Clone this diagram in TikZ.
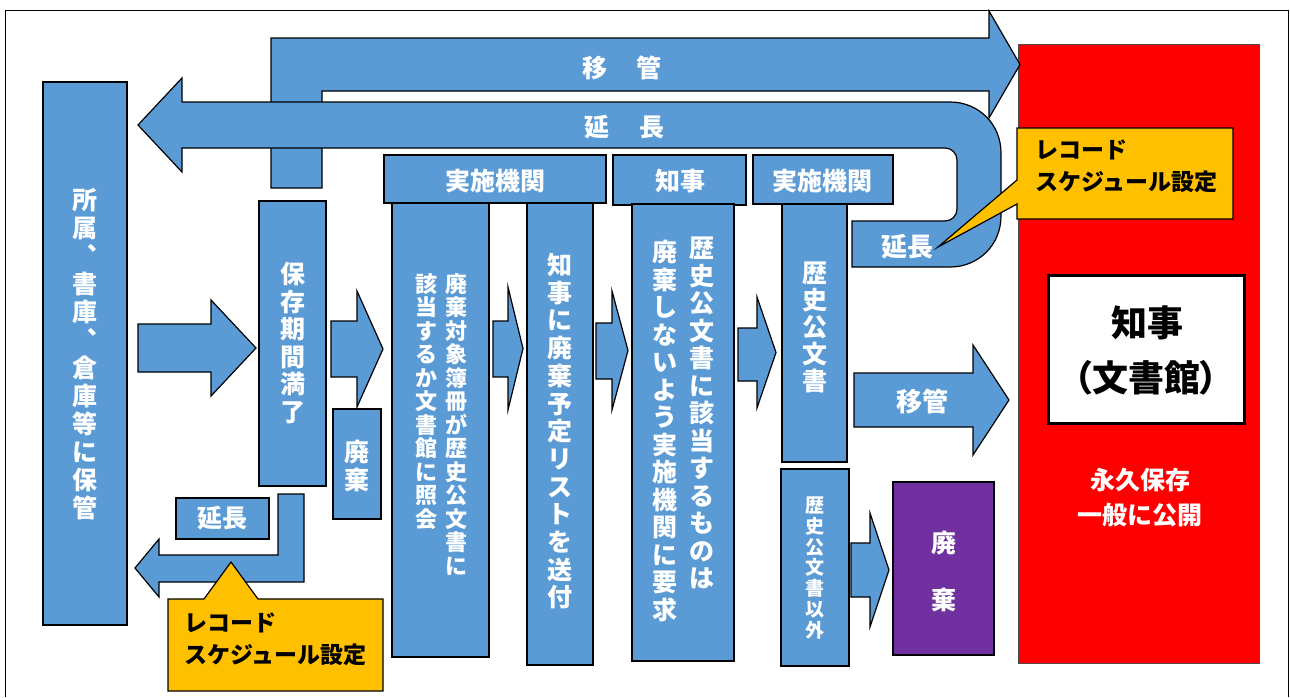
\documentclass[tikz,border=0pt]{standalone}
\usepackage{fontspec}
\setmainfont{Noto Sans CJK JP}
\XeTeXuseglyphmetrics=1
\definecolor{bbl}{RGB}{91,155,213}
\definecolor{org}{RGB}{255,192,0}
\definecolor{pur}{RGB}{112,48,160}
\definecolor{rd}{RGB}{255,0,0}
\makeatletter
\newcommand\vt[2]{\vbox{\baselineskip=#1\relax\lineskiplimit=-\maxdimen\lineskip=0pt
  \@tfor\vt@c:=#2\do{\hbox to 1em{\hss\vt@c\hss}}}}
\makeatother
\newcommand\bx[6]{\node[#6, minimum width={(#4-#2)*1pt}, minimum height={(#5-#3)*1pt}] (#1) at ({(#2+#4)/2},{(#3+#5)/2}) {};}
\newcommand\rarrow[7]{\draw[blk] (#1,#4) -- (#2,#4) -- (#2,#6) -- (#3,{(#6+#7)/2}) -- (#2,#7) -- (#2,#5) -- (#1,#5) -- cycle;}
\begin{document}
\begin{tikzpicture}[x=1pt,y=-1pt,
  blk/.style={fill=bbl, draw=black, line width=1.2pt, line join=miter},
  bbox/.style={blk, inner sep=0pt, outer sep=0pt},
  wt/.style={text=white, font=\bfseries\fontsize{25}{28}\selectfont, inner sep=0pt},
  bt/.style={text=black, font=\bfseries\fontsize{23}{32}\selectfont, inner sep=0pt, align=left}]
\useasboundingbox (0,0) rectangle (1290,697);
% frame
\draw[line width=0.8pt] (5,697) -- (5,10) -- (1288,10) -- (1288,697);
% red archive box
\bx{red}{1018}{44}{1259}{663}{draw=black!70, fill=rd, line width=0.8pt}
\bx{gov}{1048}{275}{1244}{423}{draw=black, fill=white, line width=3pt}
\node[inner sep=0pt, font=\bfseries\fontsize{36}{40}\selectfont] (govt1) at (1147,323) {知事};
\node[inner sep=0pt, font=\bfseries\fontsize{36}{40}\selectfont\addfontfeatures{RawFeature=+palt}] (govt2) at (1146,378) {（文書館）};
\node[wt, align=center, font=\bfseries\fontsize{25}{35}\selectfont] (perm) at (1140,497.5) {永久保存\\一般に公開};
% left storage box
\bx{store}{43}{82}{127}{625}{bbox}
\node[wt, anchor=north] (storet) at (85,188) {\vt{28pt}{所属︑書庫︑倉庫等に保管}};
% arrow to expiry
\rarrow{138}{211}{256}{324}{372}{300}{396}
\bx{exp}{259}{201}{326}{486}{bbox}
\node[wt, anchor=north] (expt) at (293,262) {\vt{27.5pt}{保存期間満了}};
\rarrow{331}{357}{383}{321}{377}{291}{407}
\bx{disp1}{333}{409}{381}{519}{bbox}
\node[wt, anchor=north] (disp1t) at (357,440) {\vt{28pt}{廃棄}};
% small extension
\bx{ext1}{176}{498}{269}{539}{bbox}
\node[wt] (ext1t) at (222.5,518.5) {延長};
\draw[blk] (135,568) -- (159,539) -- (159,555) -- (278,555) -- (278,494) -- (304,494) -- (304,582) -- (159,582) -- (159,597) -- cycle;
% headers
\bx{h1}{384}{155}{606}{203}{bbox}
\node[wt] (h1t) at (495,181) {実施機関};
\bx{h2}{613}{155}{746}{205}{bbox}
\node[wt] (h2t) at (680,181) {知事};
\bx{h3}{753}{155}{893}{204}{bbox}
\node[wt] (h3t) at (822,181) {実施機関};
% column boxes
\bx{c1}{392}{203}{489}{657}{bbox}
\node[wt, anchor=north, font=\bfseries\fontsize{22}{24}\selectfont] (c1a) at (456,273) {\vt{23.5pt}{廃棄対象簿冊が歴史公文書に}};
\node[wt, anchor=north, font=\bfseries\fontsize{22}{24}\selectfont] (c1b) at (426,273) {\vt{23.5pt}{該当するか文書館に照会}};
\rarrow{493}{508}{523}{321}{377}{287}{410}
\bx{c2}{527}{203}{593}{665}{bbox}
\node[wt, anchor=north] (c2t) at (560,253) {\vt{27.7pt}{知事に廃棄予定リストを送付}};
\rarrow{596}{612}{628}{323}{379}{291}{410}
\bx{c3}{632}{204}{734}{661}{bbox}
\node[wt, anchor=north] (c3a) at (702,237) {\vt{27.5pt}{歴史公文書に該当するものは}};
\node[wt, anchor=north] (c3b) at (665,240) {\vt{27.5pt}{廃棄しないよう実施機関に要求}};
\rarrow{738}{757}{776}{328}{381}{297}{408}
\bx{c4}{782}{204}{847}{462}{bbox}
\node[wt, anchor=north] (c4t) at (815,262) {\vt{27pt}{歴史公文書}};
\bx{c5}{781}{469}{849}{666}{bbox}
\node[wt, anchor=north, font=\bfseries\fontsize{19}{21}\selectfont] (c5t) at (815,497) {\vt{20.7pt}{歴史公文書以外}};
\rarrow{851}{870}{889}{543}{597}{513}{627}
\bx{purp}{893}{482}{994}{655}{draw=black, fill=pur, line width=1.2pt}
\node[wt, anchor=north] (purpt) at (944,531) {\vt{57pt}{廃棄}};
% transfer arrow to archive
\rarrow{854}{973}{1009}{373}{427}{345}{455}
\node[wt, font=\bfseries\fontsize{26}{28}\selectfont] (movt) at (922,402) {移管};
% big top transfer arrow
\draw[blk] (271,188) -- (271,38) -- (989,38) -- (989,11) -- (1020,64.5) -- (989,118) -- (989,91) -- (322,91) -- (322,188) -- cycle;
\node[wt] (topmov) at (622,68) {移\hspace{29pt}管};
% big extension arrow (curved)
\draw[blk] (138,125) -- (182,78) -- (182,102) -- (950,102)
  .. controls (978.2,102) and (1001,123.8) .. (1001,153) -- (1001,216)
  .. controls (1001,245.2) and (978.2,267) .. (950,267) -- (852,267) -- (852,221) -- (945,221)
  .. controls (951.6,221) and (957,215.6) .. (957,209) -- (957,160)
  .. controls (957,153.4) and (951.6,148) .. (945,148) -- (182,148) -- (182,172) -- cycle;
\node[wt] (topext) at (624,127) {延\hspace{30pt}長};
\node[wt, font=\bfseries\fontsize{26}{28}\selectfont] (ext2t) at (907,247) {延長};
% callouts
\draw[fill=org, draw=black, line width=1.2pt] (1017,128) -- (1233,128) -- (1233,219) -- (1017,219) -- (1017,204) -- (938,247) -- (1017,180) -- cycle;
\node[bt, anchor=west] (call1) at (1035,166.5) {レコード\\スケジュール設定};
\draw[fill=org, draw=black, line width=1.2pt] (168,599) -- (204,599) -- (231,562) -- (258,599) -- (383,599) -- (383,691) -- (168,691) -- cycle;
\node[bt, anchor=west] (call2) at (184,639) {レコード\\スケジュール設定};
\end{tikzpicture}
\end{document}
